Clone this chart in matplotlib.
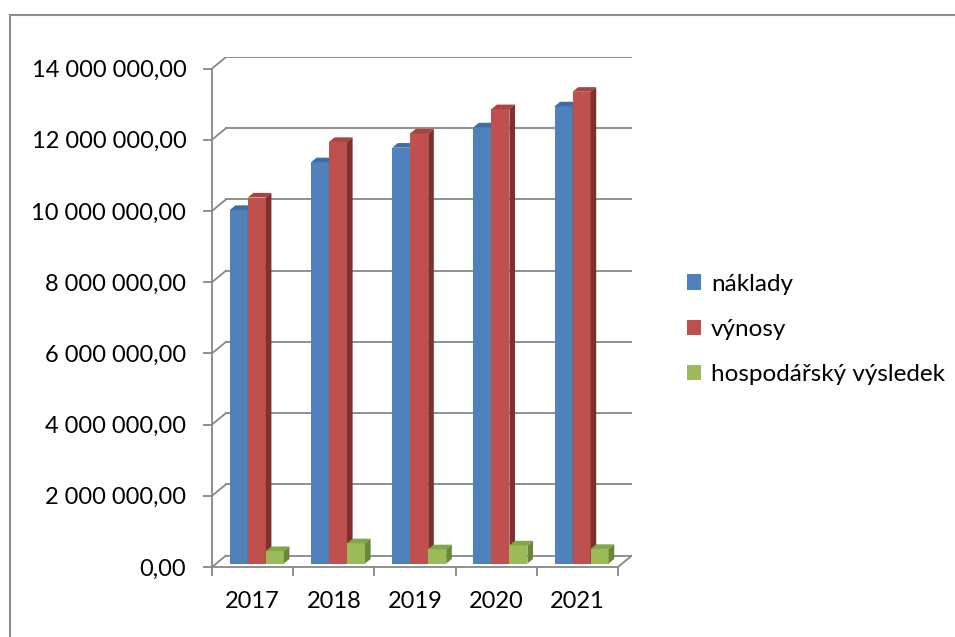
import matplotlib.pyplot as plt
from matplotlib.lines import Line2D
from matplotlib.patches import Polygon, Rectangle, Patch

# data
roky = ["2017", "2018", "2019", "2020", "2021"]
naklady = [9930000, 11270000, 11680000, 12250000, 12840000]
vynosy = [10280000, 11840000, 12080000, 12760000, 13250000]
hosp_vysledek = [350000, 570000, 400000, 510000, 410000]

serie = ["náklady", "výnosy", "hospodářský výsledek"]
y_ticks = [0, 2000000, 4000000, 6000000, 8000000, 10000000, 12000000, 14000000]

# barvy: predni stena, horni stena, bocni stena
barvy = [("#4F81BD", "#3E6CA3", "#375B86"),
         ("#C0504D", "#A84340", "#7E302E"),
         ("#9BBB59", "#84A548", "#6A8739")]

plt.rcParams['font.family'] = ['Lato', 'DejaVu Sans']

fig = plt.figure(figsize=(9.55, 6.37), dpi=100)
W, H = 955, 637

# ramecek grafu - jen horni a leva hrana, zbytek je mimo obrazek
ramecek_y = 1 - 15 / H
ramecek_x = 10 / W
fig.add_artist(Line2D([ramecek_x, 1.0], [ramecek_y, ramecek_y], color="#8C8C8C", lw=1.5))
fig.add_artist(Line2D([ramecek_x, ramecek_x], [0.0, ramecek_y], color="#8C8C8C", lw=1.5))

# osa: predni rovina x -0.5..4.5, hloubka posunuje o DX, DY
ax = fig.add_axes([212 / W, 1 - 567 / H, 420 / W, 510 / H])
ymax = 14000000
DX = 14 / 81.2
DY = 11.5 / 510 * (ymax / (1 - 11.5 / 510))
ax.set_xlim(-0.5, 4.5 + DX)
ax.set_ylim(0, ymax + DY)

seda = "#878787"
lw = 1.3

# zadni stena a leva stena - mrizka
for v in y_ticks:
    ax.plot([-0.5 + DX, 4.5 + DX], [v + DY, v + DY], color=seda, lw=lw, zorder=1)
    ax.plot([-0.5, -0.5 + DX], [v, v + DY], color=seda, lw=lw, zorder=1)
# podlaha
ax.plot([-0.5, 4.5], [0, 0], color=seda, lw=lw, zorder=1, clip_on=False)
ax.plot([4.5, 4.5 + DX], [0, DY], color=seda, lw=lw, zorder=1)

for s in ax.spines.values():
    s.set_visible(False)
ax.spines['left'].set_visible(True)
ax.spines['left'].set_bounds(0, ymax)
ax.spines['left'].set_color(seda)
ax.spines['left'].set_linewidth(lw)

ax.set_yticks(y_ticks)
ax.set_yticklabels([f"{v:,.2f}".replace(",", " ").replace(".", ",") for v in y_ticks])
ax.tick_params(axis='y', direction='out', length=6.5, width=lw, color=seda,
               labelsize=17, pad=12)

ax.set_xticks([i - 0.5 for i in range(len(roky) + 1)])
ax.set_xticklabels([])
ax.set_xticks(range(len(roky)), minor=True)
ax.set_xticklabels(roky, minor=True)
ax.tick_params(axis='x', which='major', direction='out', length=6.5, width=lw, color=seda)
ax.tick_params(axis='x', which='minor', length=0, labelsize=17, pad=17)

# sloupce
bw = 0.222
f0, f1 = 0.3, 0.7
hodnoty = [naklady, vynosy, hosp_vysledek]
z = 2
for i in range(len(roky)):
    for k in range(3):
        v = hodnoty[k][i]
        x0 = i + (k - 1.5) * bw + f0 * DX
        x1 = x0 + bw
        b0 = f0 * DY
        t0 = v + f0 * DY
        ddx = (f1 - f0) * DX
        ddy = (f1 - f0) * DY
        front, top, side = barvy[k]
        ax.add_patch(Rectangle((x0, b0), bw, v, facecolor=front, edgecolor="none", zorder=z))
        ax.add_patch(Polygon([(x0, t0), (x1, t0), (x1 + ddx, t0 + ddy), (x0 + ddx, t0 + ddy)],
                             closed=True, facecolor=top, edgecolor="none", zorder=z))
        ax.add_patch(Polygon([(x1, b0), (x1 + ddx, b0 + ddy), (x1 + ddx, t0 + ddy), (x1, t0)],
                             closed=True, facecolor=side, edgecolor="none", zorder=z))
        z += 1

# legenda
handles = [Patch(facecolor=barvy[k][0], edgecolor="none") for k in range(3)]
fig.legend(handles, serie, loc="upper left", bbox_to_anchor=(677 / W, 1 - 264 / H),
           frameon=False, fontsize=17.5, handlelength=0.6, handleheight=0.6,
           handletextpad=0.4, labelspacing=1.0, borderaxespad=0)

fig.savefig("out.png", dpi=100)
